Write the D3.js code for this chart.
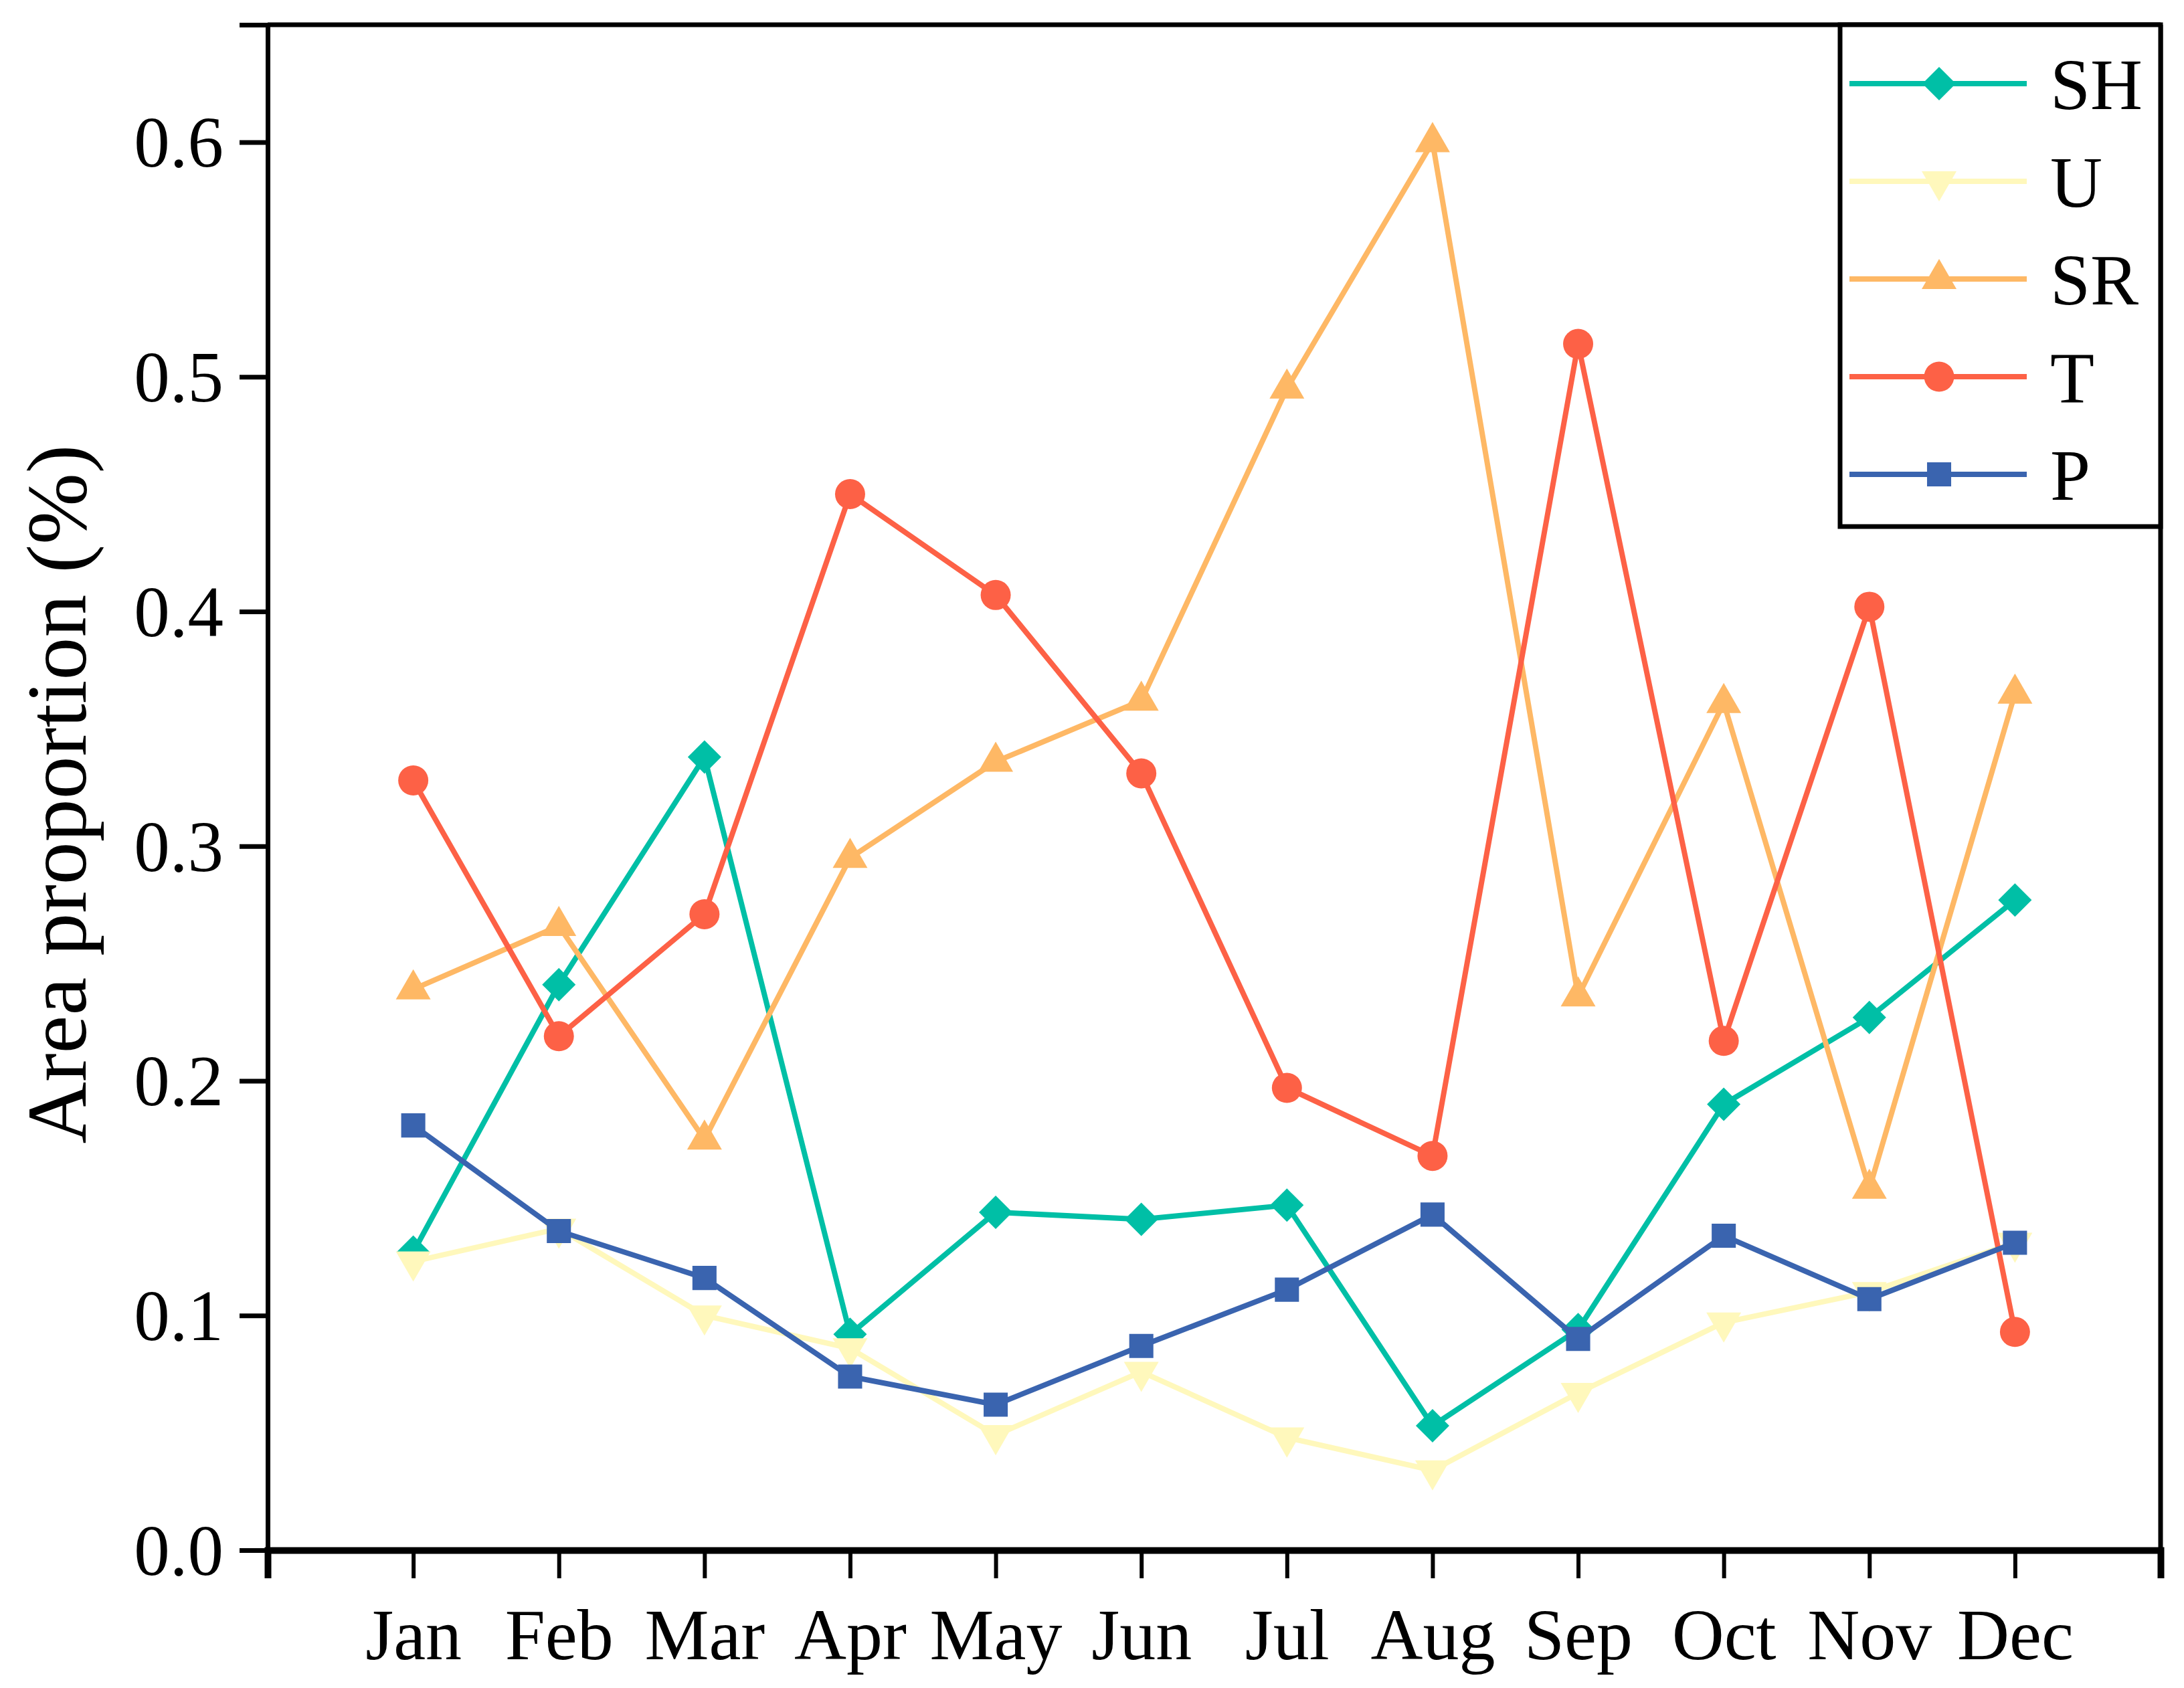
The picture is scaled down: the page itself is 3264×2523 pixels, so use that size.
<!DOCTYPE html>
<html>
<head>
<meta charset="utf-8">
<script src="https://cdn.jsdelivr.net/npm/d3@7"></script>
<style>
  body { margin: 0; background: #fff; }
  text { font-family: "Liberation Serif", "Times New Roman", serif; fill: #000; }
</style>
</head>
<body>
<div id="chart"></div>
<script>
// months along the x axis
var months = ['Jan', 'Feb', 'Mar', 'Apr', 'May', 'Jun', 'Jul', 'Aug', 'Sep', 'Oct', 'Nov', 'Dec'];

// area proportion per month
var SH = [0.127, 0.241, 0.338, 0.092, 0.144, 0.141, 0.147, 0.053, 0.094, 0.190, 0.227, 0.277];
var U  = [0.123, 0.137, 0.100, 0.086, 0.049, 0.076, 0.048, 0.034, 0.067, 0.097, 0.110, 0.131];
var SR = [0.239, 0.266, 0.175, 0.295, 0.336, 0.362, 0.495, 0.600, 0.236, 0.361, 0.154, 0.365];
var T  = [0.328, 0.219, 0.271, 0.450, 0.407, 0.331, 0.197, 0.168, 0.514, 0.217, 0.402, 0.093];
var P  = [0.181, 0.136, 0.116, 0.074, 0.062, 0.087, 0.111, 0.143, 0.090, 0.134, 0.107, 0.131];

var yTicks = [0, 0.1, 0.2, 0.3, 0.4, 0.5, 0.6];

var series = [
  { name: 'SH', values: SH, color: '#00BFA6', shape: 'diamond' },
  { name: 'U',  values: U,  color: '#FFF8BC', shape: 'down' },
  { name: 'SR', values: SR, color: '#FEB865', shape: 'up' },
  { name: 'T',  values: T,  color: '#FD6146', shape: 'circle' },
  { name: 'P',  values: P,  color: '#3A64AF', shape: 'square' }
];

var svgWidth = 3264, svgHeight = 2523;
var margin = { left: 400, right: 35, top: 37, bottom: 206 };
var width = svgWidth - margin.left - margin.right;
var height = svgHeight - margin.top - margin.bottom;

var svg = d3.select('#chart')
    .append('svg')
    .attr('width', svgWidth)
    .attr('height', svgHeight);

var g = svg.append('g')
    .attr('transform', 'translate(' + margin.left + ',' + margin.top + ')');

var x = d3.scaleLinear().domain([0, 13]).range([0, width]);
var y = d3.scaleLinear().domain([0, 0.65]).range([height, 0]);

// marker path for each shape
function marker(shape) {
  if (shape === 'diamond') return d3.symbol().type(d3.symbolSquare).size(1250)();
  if (shape === 'square') return d3.symbol().type(d3.symbolSquare).size(1300)();
  if (shape === 'circle') return d3.symbol().type(d3.symbolCircle).size(1590)();
  return d3.symbol().type(d3.symbolTriangle).size(1170)();
}
function rot(shape) {
  if (shape === 'diamond') return 45;
  if (shape === 'down') return 180;
  return 0;
}

// frame: top and right
g.append('line').attr('x1', 0).attr('x2', width).attr('y1', 0).attr('y2', 0)
    .attr('stroke', '#000').attr('stroke-width', 7);
g.append('line').attr('x1', width).attr('x2', width).attr('y1', 0).attr('y2', height)
    .attr('stroke', '#000').attr('stroke-width', 7);

// y axis
var yAxis = g.append('g')
    .call(d3.axisLeft(y).tickValues(yTicks).tickSize(42).tickPadding(24).tickFormat(d3.format('.1f')));
yAxis.select('.domain').attr('stroke-width', 7);
yAxis.selectAll('.tick line').attr('stroke-width', 7);
yAxis.selectAll('text').style('font-size', '107px').attr('dy', '0.34em');

// x axis
var xAxis = g.append('g')
    .attr('transform', 'translate(0,' + height + ')')
    .call(d3.axisBottom(x).tickValues(d3.range(0, 14)).tickSize(42).tickPadding(44)
      .tickFormat(function(d) { return (d >= 1 && d <= 12) ? months[d - 1] : ''; }));
xAxis.select('.domain').attr('stroke-width', 10);
xAxis.selectAll('.tick line').attr('stroke-width', 6);
xAxis.selectAll('text').style('font-size', '108px');

// y axis title
svg.append('text')
    .attr('transform', 'translate(83,' + (margin.top + height / 2 + 10) + ') rotate(-90)')
    .attr('text-anchor', 'middle')
    .attr('dy', '0.35em')
    .style('font-size', '128px')
    .text('Area proportion (%)');

var line = d3.line()
    .x(function(d, i) { return x(i + 1); })
    .y(function(d) { return y(d); });

series.forEach(function(s) {
  g.append('path')
      .datum(s.values)
      .attr('d', line)
      .attr('fill', 'none')
      .attr('stroke', s.color)
      .attr('stroke-width', 8);
  g.selectAll('.m-' + s.name)
      .data(s.values)
      .enter()
      .append('path')
      .attr('class', 'm-' + s.name)
      .attr('d', marker(s.shape))
      .attr('fill', s.color)
      .attr('transform', function(d, i) {
        return 'translate(' + x(i + 1) + ',' + y(d) + ') rotate(' + rot(s.shape) + ')';
      });
});

// legend
var lg = g.append('g').attr('transform', 'translate(' + (2750 - margin.left) + ',0)');
lg.append('rect')
    .attr('x', 0).attr('y', 0)
    .attr('width', width - (2750 - margin.left))
    .attr('height', 750)
    .attr('fill', '#fff')
    .attr('stroke', '#000')
    .attr('stroke-width', 7);

var rows = lg.selectAll('.lrow')
    .data(series)
    .enter()
    .append('g')
    .attr('class', 'lrow')
    .attr('transform', function(d, i) { return 'translate(0,' + (88 + i * 146) + ')'; });

rows.append('line')
    .attr('x1', 14).attr('x2', 279)
    .attr('stroke', function(d) { return d.color; })
    .attr('stroke-width', 8);
rows.append('path')
    .attr('d', function(d) { return marker(d.shape); })
    .attr('fill', function(d) { return d.color; })
    .attr('transform', function(d) { return 'translate(148,0) rotate(' + rot(d.shape) + ')'; });
rows.append('text')
    .attr('x', 314)
    .attr('dy', '0.35em')
    .style('font-size', '108px')
    .text(function(d) { return d.name; });
</script>
</body>
</html>
